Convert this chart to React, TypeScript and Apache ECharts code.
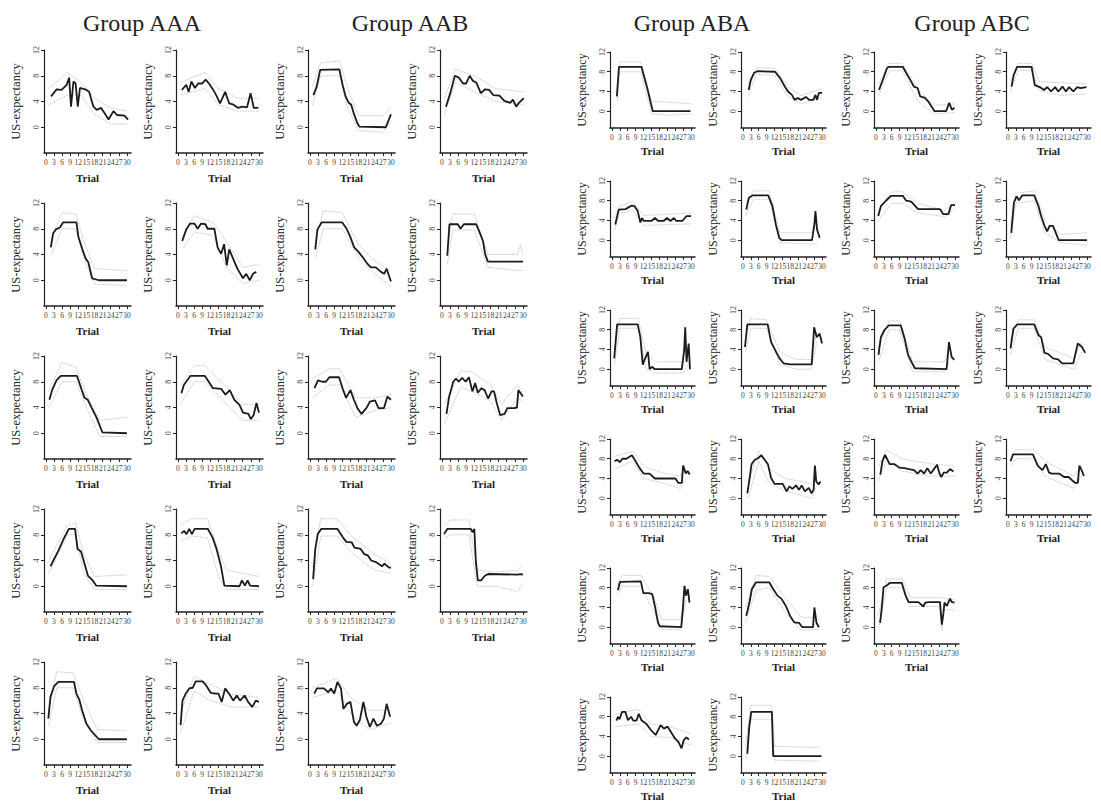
import React, { useEffect, useRef } from "react";
import * as echarts from "echarts";

// ---------- tick labels ----------
const trialTicks = [0, 3, 6, 9, 12, 15, 18, 21, 24, 27, 30];
const expectancyTicks = [0, 4, 8, 12];
const groupNames = ["Group AAA", "Group AAB", "Group ABA", "Group ABC"];

// ---------- data: [trial, US-expectancy] ----------
const aaaMean = [
  [[1.9,4.8],[4,5.9],[5.8,5.8],[7.7,6.6],[8.6,7.7],[9.3,3.2],[10.2,7.1],[11,6.8],[11.8,3.2],[12.6,6.1],[14.5,5.9],[16,5.5],[17.6,3.2],[18.8,2.7],[20.4,3],[21.7,2.2],[23.2,1.2],[25,2.5],[26.3,1.9],[29.1,1.8],[30.4,1.2]],
  [[1.5,5.8],[3.1,6.6],[4,5.5],[5,7.1],[6.3,6.1],[7.5,6.8],[9,6.8],[10.3,7.4],[11.5,6.8],[13.1,5.8],[14.4,4.8],[15.6,3.7],[17.5,5.5],[19,3.7],[20.6,3.5],[22.3,3.0],[23.8,3.2],[25.6,3.1],[26.9,5.3],[28.1,3.0],[29.8,3.0]],
  [[1.8,5.1],[2.7,7.3],[3.7,7.9],[5.2,8.2],[6.4,9.0],[11.3,9.0],[12,6.8],[13.5,4.8],[14.7,3.4],[15.7,2.8],[17.1,0.3],[19.6,0],[30,0]],
  [[1.6,6.1],[3.1,7.9],[4.5,8.8],[6.1,8.8],[7.3,8.0],[8.6,8.8],[10.2,8.7],[11,8.0],[13.5,8.0],[14.7,5.1],[16,4.1],[17.1,5.6],[18.1,2.3],[19,4.8],[20.2,3.6],[22,1.8],[24.1,0.3],[25.3,1.0],[26.6,0],[27.8,1.0],[29,1.3]],
  [[1.3,5.2],[2.3,6.7],[3.9,8.2],[5.5,8.9],[11.5,8.9],[13.3,6.7],[14.3,5.5],[15.5,5.2],[17,3.9],[18.8,2.4],[20.9,0.15],[30,0]],
  [[1.3,6.2],[2.2,7.5],[4.6,8.9],[10,8.9],[13,7.0],[16,6.9],[17.6,6.0],[19.2,6.7],[20.9,5.2],[22.8,4.4],[24.1,3.2],[26.1,3.0],[27,2.2],[28,2.8],[29.1,4.7],[30,3.2]],
  [[1.7,3.1],[3,4.2],[4.6,5.5],[6.5,7.3],[8.5,8.9],[10.8,8.9],[11.7,5.8],[13,5.4],[14.3,3.5],[15.6,1.6],[17.3,0.9],[18.6,0.1],[30,0]],
  [[1.3,8.2],[2.3,8.6],[3.2,8.1],[4.2,8.9],[5.2,8.1],[6.2,8.9],[11.1,8.9],[12.8,7.6],[14.3,5.8],[15.9,3.2],[17.2,0.1],[22.8,0],[23.7,0.9],[24.8,0.1],[25.8,0.9],[26.7,0.1],[30,0]],
  [[0.9,3.2],[1.7,6.6],[3,8.2],[4.6,8.9],[10.4,8.9],[11.3,7.1],[12.4,6.1],[13.4,4.5],[15,2.4],[16.6,1.4],[18.3,0.6],[19.6,0],[30,0]],
  [[1,2.2],[1.7,6.0],[2.9,7.1],[4.2,7.9],[5.5,8.0],[6.6,9.0],[9.1,9.0],[10.4,8.4],[12.2,7.2],[13.9,7.1],[15,7.1],[16.2,5.8],[17.5,7.9],[19.2,6.9],[20.5,6.0],[21.8,6.8],[23,6.0],[24.7,6.8],[26,5.8],[27.5,5.0],[28.8,6.0],[30,5.8]],
];
const aaaUpper = [
  [[1,6],[8,8.5],[13,7],[18,4.5],[24,3],[30,2.5]],
  [[1,7],[10,8.5],[15,6],[22,4.5],[30,4.5]],
  [[2,6.5],[6,10.5],[11,10.3],[14,6],[18,1.8],[30,1.5]],
  [[2,7],[6,10],[13,9],[18,6],[24,2],[30,2.5]],
  [[1,6.5],[6,11],[11,10.3],[15,6],[20,2],[30,2.5]],
  [[1,7.5],[6,10.5],[10,10.5],[17,7.5],[24,4.5],[30,4.5]],
  [[1,4],[8,9.5],[11,9.8],[14,5],[18,1.5],[30,1.8]],
  [[1,9.5],[5,10.5],[11,10.5],[15,5.5],[18,2.5],[30,1.5]],
  [[1,4.5],[4,10.5],[10,10.3],[14,6],[19,1.5],[30,1.3]],
  [[1,4],[6,9.8],[12,8.5],[20,7],[30,6.5]],
];
const aaaLower = [
  [[1,3.5],[8,5],[13,5],[18,2],[24,0.5],[30,0.5]],
  [[1,5],[10,6],[15,3.5],[22,2.5],[30,2.5]],
  [[2,4],[6,8],[11,8],[14,3.5],[18,-0.6],[30,-0.8]],
  [[2,5],[6,7.5],[13,7],[18,2],[24,-0.5],[30,0]],
  [[1,4],[6,8],[11,8],[15,4],[20,-0.5],[30,-0.5]],
  [[1,4.5],[6,8],[10,8],[17,5],[24,2],[30,2]],
  [[1,2],[8,8],[11,8],[14,2],[18,-0.5],[30,-0.5]],
  [[1,7],[5,7.8],[11,7.5],[15,1.5],[18,-0.5],[30,-0.5]],
  [[1,2],[4,8],[10,8],[14,3],[19,-0.5],[30,-0.5]],
  [[1,1],[6,7.5],[12,6],[20,5],[30,5]],
];

const aabMean = [
  [[1.3,5.0],[2.5,6.3],[3.8,8.9],[10.9,9.0],[12.1,6.6],[13.2,4.8],[14.4,3.8],[15.3,3.5],[16.2,2.2],[17.5,0.7],[18.3,0.1],[28.1,0],[30,2.0]],
  [[1.5,3.2],[3.1,5.3],[4.8,8.0],[6.3,7.7],[7.8,6.8],[9,6.8],[10.3,8.0],[11.5,7.2],[12.8,6.9],[14.4,5.3],[16,5.9],[17.5,5.8],[19,5.0],[21.3,4.9],[23.1,4.1],[25.3,3.8],[26.3,4.3],[27.5,3.2],[28.5,3.8],[30.3,4.5]],
  [[2,4.8],[2.8,7.9],[4.4,9.0],[11.9,9.0],[13.6,8.0],[14.8,6.9],[16.4,5.1],[18,4.4],[19.5,3.6],[21.4,2.5],[22.6,2.0],[24.4,2.0],[26.3,1.3],[27.5,1.0],[28.4,1.8],[30,-0.2]],
  [[2,3.8],[2.8,8.7],[5.9,8.7],[6.9,8.0],[8.1,8.7],[12.7,8.7],[14,7.4],[15.2,6.1],[16,4.1],[17,2.9],[30,2.9]],
  [[1.7,7.0],[3,8.2],[4.6,8.0],[5.9,8.0],[7.2,8.7],[10.8,8.7],[12.1,7.0],[13.4,5.5],[15,6.7],[16.3,5.2],[17.6,3.9],[19.1,3.0],[20.9,3.9],[22.2,4.9],[24.1,5.1],[25.4,3.9],[27.4,3.9],[28.7,5.7],[30,5.2]],
  [[1.7,3.0],[2.6,5.5],[4.2,8.0],[5.2,8.5],[6.2,8.0],[7.5,8.6],[8.8,8.0],[10,8.7],[11.3,6.5],[12.3,7.8],[13.3,6.3],[14.6,7.0],[15.8,6.7],[17.1,5.4],[18.4,6.5],[19.3,6.5],[20.3,4.7],[21.6,2.8],[23.2,3.0],[24.2,3.9],[26.8,3.9],[27.8,4.0],[28.3,6.7],[30,5.7]],
  [[1.2,1.1],[2,5.8],[2.9,8.1],[4.2,8.9],[10.2,8.9],[12.2,7.6],[13.5,6.9],[15.5,6.8],[16.5,6.0],[18.8,5.8],[20.1,5.0],[21.4,4.8],[22.7,4.0],[24.7,3.7],[26.7,3.1],[27.6,3.5],[29.3,2.9],[30,2.9]],
  [[0.8,8.1],[2,8.9],[10.7,8.9],[11.4,8.4],[12,8.9],[12.6,3.7],[13.3,0.9],[14.5,0.9],[15.8,1.6],[17.1,1.9],[28,1.8],[29.1,1.9],[30,1.8]],
  [[1.6,7.1],[2.6,7.9],[5.2,7.9],[6.8,7.3],[7.8,7.9],[9,7.1],[10.2,8.9],[11.5,7.9],[12.4,4.7],[13.7,5.5],[15,5.8],[16.3,2.7],[17.3,2.1],[18.5,3.0],[19.8,5.8],[20.9,3.5],[22.2,1.9],[23.5,3.2],[24.8,2.1],[26.3,2.4],[27.4,3.2],[28.4,5.5],[29.7,3.5]],
];
const aabUpper = [
  [[1,6.5],[4,10],[11,10.3],[14,6],[18,1.8],[27,1.8],[30,3]],
  [[1,4.5],[5,9],[12,8],[20,6],[30,5.5]],
  [[2,6],[5,10.8],[12,10.5],[18,5.5],[24,3],[30,1.5]],
  [[2,5],[4,10.3],[12,10.3],[17,4],[28,4],[29,5.5],[30,4]],
  [[1,8.5],[7,10],[11,10],[17,5.5],[24,5.5],[30,6]],
  [[1,4.5],[7,9.7],[11,9.5],[18,7.5],[22,4.5],[28,7.5],[30,6.5]],
  [[1,3],[4,10.5],[10,10.5],[16,7.5],[24,5],[30,3.5]],
  [[1,9.5],[3,10.3],[10,10.3],[13,2.5],[20,2.2],[28,2.5],[30,3.5]],
  [[1,8],[10,9.5],[15,6.5],[22,4.5],[30,4.5]],
];
const aabLower = [
  [[1,3.5],[4,8],[11,8],[14,3],[18,-0.5],[27,-0.8],[30,1]],
  [[1,2],[5,7],[12,5.5],[20,4],[30,3.5]],
  [[2,3.5],[5,8],[12,8],[18,3.5],[24,1],[30,-1]],
  [[2,2.5],[4,7.8],[12,7.8],[17,2],[28,1.5],[30,1.5]],
  [[1,5.5],[7,7.5],[11,7.5],[17,2.5],[24,3.5],[30,4]],
  [[1,1.5],[7,7.2],[11,6.5],[18,5],[22,2],[28,5.5],[30,5]],
  [[1,0],[4,7.8],[10,7.8],[16,5],[24,2.5],[30,2]],
  [[1,7.5],[3,8],[10,8],[13,0],[20,0],[28,-0.8],[30,0.5]],
  [[1,6.5],[10,7.5],[15,4],[22,1.5],[30,2.5]],
];

const abaMean = [
  [[1.9,3.0],[2.7,9.0],[11.2,9.0],[13.4,4.7],[15.5,0],[29.8,0]],
  [[2.2,4.3],[3,6.3],[4.3,7.8],[5.5,8.1],[12.2,8.0],[14.1,6.7],[15.9,5.0],[17.1,4.0],[18.6,3.3],[19.6,2.3],[20.8,2.7],[22,2.3],[23.9,2.9],[25.1,2.3],[26.7,2.3],[27.5,3.3],[28.1,2.3],[28.8,3.7],[30,3.7]],
  [[1.3,3.2],[2.6,6.2],[5.2,6.3],[6.1,6.6],[7.4,7.0],[8.6,6.9],[9.8,5.9],[10.8,3.6],[11.4,4.5],[12.1,3.9],[15,3.9],[16.3,4.5],[17.6,3.9],[19.6,3.9],[20.9,4.5],[22.2,3.9],[23.5,4.5],[24.4,3.9],[26.7,3.9],[28.3,4.9],[30,4.9]],
  [[1.3,6.2],[2.3,8.6],[3.8,9.1],[9.6,9.1],[11.2,6.9],[12.5,3.2],[13.8,0.5],[14.7,0],[26.2,0],[27.1,3.2],[27.5,5.9],[28.1,2.2],[29.1,0.5]],
  [[0.9,2.2],[2,9.1],[9.8,9.1],[10.8,6.5],[11.7,0.9],[12.6,2.2],[13.7,3.5],[14.3,0],[15.2,0.5],[16.3,0],[26.5,0],[27.4,3.9],[27.8,8.5],[28.3,1.5],[29.1,5.2],[29.6,0]],
  [[0.8,4.5],[1.7,9.1],[9.4,9.1],[10.7,5.5],[12.6,3.5],[13.9,2.2],[15.4,1.2],[17.8,1.0],[26.1,1.0],[27,8.5],[28,6.5],[29.1,7.2],[30,5.2]],
  [[1,7.5],[2,7.8],[3,7.3],[4,8.0],[5.5,8.0],[7.6,8.7],[9,7.5],[10.4,6.2],[12,5.0],[14.3,5.0],[16.3,4.0],[24.1,4.0],[25.2,3.1],[26.5,3.1],[27,6.6],[28,5.0],[28.7,5.5],[29.5,4.8]],
  [[1.7,1.0],[2.5,3.8],[3.3,6.9],[4.5,7.8],[5.5,8.0],[7,8.7],[8,8.0],[9.5,6.9],[10.7,4.1],[12,2.9],[15.1,2.9],[16.6,1.4],[17.6,2.4],[18.8,1.9],[20.1,2.6],[21.3,1.7],[22.3,2.6],[23.5,1.4],[25,2.1],[26,1.0],[26.8,1.7],[27.3,6.6],[27.8,3.4],[28.7,2.8],[29.4,3.4]],
  [[2.3,7.5],[3.1,9.2],[11,9.3],[11.9,6.9],[14,6.9],[15.3,6.7],[16.3,4.3],[17.5,0.9],[18.1,0.2],[26.3,0],[26.9,3.6],[27.5,8.4],[28.1,6.4],[28.8,7.7],[29.4,5.0]],
  [[1.3,2.3],[2.5,5.0],[3.4,7.7],[5,9.1],[10,9.1],[11.3,7.9],[13.1,6.4],[14.6,5.8],[16.3,4.3],[17.9,2.3],[19.4,1.0],[21.3,0.9],[22.5,0],[26.6,0],[27.1,4.0],[27.9,0.9],[28.8,0]],
  [[1.7,7.2],[2.3,8.0],[2.9,7.5],[3.9,9.0],[5.1,9.0],[6.1,7.3],[7.3,8.0],[8.1,7.2],[9.3,7.2],[10.2,8.6],[11.2,7.3],[13,6.6],[14.8,5.3],[16.6,4.3],[18.5,6.3],[19.7,5.6],[21.1,6.0],[22.4,4.9],[23.9,3.6],[25.2,2.9],[26.4,1.6],[27.2,3.2],[28.2,3.8],[29.2,3.4]],
  [[1.7,0.5],[2.4,5.9],[3.2,9.0],[11,9.0],[11.5,0],[29.8,0]],
];
const abaUpper = [
  [[2,4.5],[3,10],[11,10],[15,2],[22,1.8],[30,1.5]],
  [[2,5.5],[5,8.8],[12,8.7],[17,5],[22,3.2],[30,4.5]],
  [[1,4.5],[3,7],[8,7.8],[12,5],[30,5.5]],
  [[1,7.5],[4,10],[10,10],[14,1.5],[26,1.5],[28,5]],
  [[1,4],[3,10.3],[10,10.3],[13,3],[17,1.5],[27,1.5],[28,7]],
  [[1,6],[3,10.3],[9,10],[14,3.5],[20,2],[26,2],[28,7.5]],
  [[1,8.5],[8,9.5],[12,6.5],[20,5],[26,4.5],[28,6]],
  [[2,3],[6,9.5],[10,6],[16,4],[26,3],[28,5]],
  [[2,8.5],[4,10.5],[11,10.5],[16,6],[19,1.5],[26,1.5],[28,8]],
  [[1,4],[5,10.5],[10,10.3],[16,6],[22,2],[27,2],[29,1.5]],
  [[1,8.5],[10,9.5],[15,6.5],[22,6],[30,4.5]],
  [[1,2],[3,10.3],[11,10.3],[12,2],[29,1.8]],
];
const abaLower = [
  [[2,2],[3,8],[11,8],[15,-0.5],[22,-0.8],[30,-0.5]],
  [[2,3],[5,7.5],[12,7.3],[17,3],[22,1.5],[30,2.8]],
  [[1,2],[3,5.5],[8,6],[12,3],[30,3.3]],
  [[1,5],[4,8.3],[10,8.3],[14,-0.5],[26,-0.8],[28,-0.5]],
  [[1,1],[3,8.3],[10,8.3],[13,0],[17,-0.8],[27,-0.8],[29,1]],
  [[1,3.5],[3,8.3],[9,8.3],[14,1],[20,0],[26,0],[28,5.5]],
  [[1,6],[8,7.5],[12,4],[20,3],[26,2],[28,4]],
  [[2,0],[6,7.5],[10,3],[16,1.5],[26,0],[28,2.5]],
  [[2,6.5],[4,8.3],[11,8.3],[16,3],[19,-0.5],[26,-0.5],[28,5.5]],
  [[1,1],[5,7.5],[10,8],[16,3],[22,-0.5],[27,-0.5],[29,-0.5]],
  [[1,6],[10,6.5],[15,4],[22,3.8],[30,2.2]],
  [[1,-0.5],[3,7.5],[11,7.5],[12,-0.8],[29,-1]],
];

const abcMean = [
  [[1.2,4.3],[2.6,6.3],[4.2,8.7],[4.8,9.0],[10.2,9.0],[12,7.3],[13.4,6.0],[14.4,5.0],[15.8,4.7],[16.8,3.0],[18.6,2.7],[19.8,2.0],[21.4,0.7],[22.2,0],[26.6,0],[27.8,1.7],[28.8,0.3],[29.8,0.7]],
  [[1.4,5.0],[2.2,7.3],[3.5,9.0],[9,9.0],[10.2,5.3],[12.1,4.9],[13.7,4.3],[14.9,4.9],[16.4,4.0],[17.9,4.9],[19.1,4.0],[20.7,5.0],[22,4.0],[23.2,4.9],[24.8,4.0],[26.3,4.9],[27.5,4.7],[29.8,4.9]],
  [[0.9,4.9],[1.9,6.9],[3.8,8.0],[5.7,9.0],[10.2,9.0],[11.5,8.0],[13.4,7.8],[16,6.3],[24.3,6.3],[25.5,5.3],[27.5,5.3],[28.5,7.1],[30,7.1]],
  [[1.3,1.5],[2.3,7.6],[3.3,8.9],[4.2,8.1],[5.5,9.1],[10,9.1],[11.6,6.9],[12.6,4.9],[13.9,2.9],[14.9,1.8],[15.8,2.9],[17.1,2.9],[18.4,1.2],[19.3,0],[30,0]],
  [[1,2.9],[1.9,6.5],[3.2,7.9],[4.9,8.9],[9.4,8.9],[10.9,6.2],[12.2,2.9],[13.5,1.5],[14.8,0.2],[26.8,0],[27.7,5.5],[28.7,2.5],[29.7,1.9]],
  [[1,4.2],[2.1,8.2],[3.6,9.1],[10,9.1],[11.6,6.9],[12.6,6.5],[13.9,3.3],[15.2,3.1],[17.1,2.2],[19,2.0],[20.6,1.2],[24.8,1.2],[26.5,5.2],[28.1,4.5],[29.3,3.3]],
  [[1.7,4.8],[2.5,7.5],[3.5,8.8],[5.2,6.9],[7.1,6.9],[8.9,6.2],[10.8,6.1],[12.6,5.9],[14.5,5.7],[15.8,5.0],[17,5.7],[18.3,5.0],[19.5,6.1],[20.8,5.0],[22,5.9],[23.2,6.8],[24.1,5.0],[24.8,4.3],[25.7,5.2],[26.9,5.2],[28.1,5.9],[29.4,5.4]],
  [[1,7.5],[2,8.9],[9.5,8.9],[11.3,6.6],[13.1,5.7],[14.4,6.9],[15.6,5.2],[16.6,5.0],[19.4,5.0],[21.3,4.3],[23,4.3],[24.4,3.6],[25.6,3.1],[26.5,3.1],[27.1,6.6],[28.1,5.5],[28.8,4.5]],
  [[1.6,0.9],[2.2,3.6],[2.9,8.1],[4,8.4],[5.4,9.0],[9.8,9.0],[11.3,6.4],[12.4,5.1],[16.1,5.1],[18,4.2],[18.7,5.0],[20,5.1],[24.3,5.1],[25,0.5],[25.6,2.9],[26,5.0],[26.9,4.3],[28.1,5.8],[28.8,5.1],[29.8,5.0]],
];
const abcUpper = [
  [[1,5.5],[5,9.7],[10,9.7],[16,4.5],[22,1.2],[30,1.5]],
  [[1,6],[4,9.7],[9,9.7],[12,6],[30,5.5]],
  [[1,6],[6,9.8],[10,9.8],[16,7.5],[26,6],[30,7.8]],
  [[1,3],[3,9.5],[10,10],[14,4],[20,1.2],[30,1.5]],
  [[1,4.5],[5,9.8],[9,9.8],[14,1.5],[26,1.5],[28,4.5]],
  [[1,6],[4,10],[10,10],[14,4.5],[25,2.2],[28,5.5]],
  [[1,6.5],[4,9.8],[10,8],[20,7],[30,6.5]],
  [[1,8.5],[3,9.8],[10,9.8],[14,7.5],[25,4.5],[28,6.5]],
  [[1,2.5],[4,9.8],[10,9.8],[13,6],[24,6],[30,5.5]],
];
const abcLower = [
  [[1,3],[5,8.2],[10,8.2],[16,2],[22,-0.5],[30,-0.3]],
  [[1,4],[4,8.3],[9,8.3],[12,4.2],[20,3.2],[30,3.5]],
  [[1,4],[6,7.5],[10,7.5],[16,5.5],[26,4.8],[30,6.5]],
  [[1,0.5],[3,7.5],[10,8],[14,1.5],[20,-0.5],[30,-1]],
  [[1,1.5],[5,8],[9,8],[14,-0.5],[26,-0.5],[28,1.5]],
  [[1,3],[4,8.3],[10,8.3],[14,2],[25,0],[28,3.5]],
  [[1,3.5],[4,7.8],[10,5.5],[20,4.5],[30,4.5]],
  [[1,6.5],[3,8],[10,8],[14,4.5],[25,2],[28,4.5]],
  [[1,-0.5],[4,8],[10,8],[13,4.2],[24,4.2],[25,-0.5],[26,3.5],[30,3.5]],
];

// ---------- layout (positions & styles only) ----------
const FONT = '"Liberation Serif", "DejaVu Serif", serif';
const SIDES = {
  L: { cols: [44, 176, 308, 440], top: 50, step: 153, w: 87, h: 103, ymin: -4, yNameGap: 22, xNameGap: 19, yNameSize: 12.5 },
  R: { cols: [610, 741, 874, 1006], top: 52, step: 129, w: 85, h: 76, ymin: -3.4, yNameGap: 22, xNameGap: 17, yNameSize: 12 },
};
const GROUPS = [
  { mean: aaaMean, upper: aaaUpper, lower: aaaLower, side: "L", col0: 0, titleX: 142 },
  { mean: aabMean, upper: aabUpper, lower: aabLower, side: "L", col0: 2, titleX: 410 },
  { mean: abaMean, upper: abaUpper, lower: abaLower, side: "R", col0: 0, titleX: 692 },
  { mean: abcMean, upper: abcUpper, lower: abcLower, side: "R", col0: 2, titleX: 972 },
];

function buildOption() {
  const grid: any[] = [];
  const xAxis: any[] = [];
  const yAxis: any[] = [];
  const series: any[] = [];
  const graphic: any[] = [];
  let idx = 0;
  GROUPS.forEach((g, gi) => {
    const L = (SIDES as any)[g.side];
    graphic.push({
      type: "text",
      x: g.titleX,
      y: 23,
      style: { text: groupNames[gi], font: `24px ${FONT}`, fill: "#222", textAlign: "center", textVerticalAlign: "middle" },
    });
    g.mean.forEach((meanData: number[][], pi: number) => {
      const row = Math.floor(pi / 2);
      const col = g.col0 + (pi % 2);
      grid.push({ left: L.cols[col], top: L.top + row * L.step, width: L.w, height: L.h, containLabel: false, outerBoundsMode: "none" });
      xAxis.push({
        gridIndex: idx,
        type: "value",
        min: -0.7,
        max: 31.5,
        name: "Trial",
        nameLocation: "middle",
        nameGap: L.xNameGap,
        nameTextStyle: { fontFamily: FONT, fontSize: 11, fontWeight: "bold", color: "#222" },
        axisLine: { show: true, onZero: false, lineStyle: { color: "#222", width: 1.5 } },
        axisTick: { show: true, customValues: trialTicks, length: 3, lineStyle: { color: "#222", width: 1 } },
        axisLabel: { customValues: trialTicks, fontFamily: FONT, fontSize: 7.5, color: "#444", margin: 5, hideOverlap: false },
        splitLine: { show: false },
      });
      yAxis.push({
        gridIndex: idx,
        type: "value",
        min: L.ymin,
        max: 12,
        name: "US-expectancy",
        nameLocation: "middle",
        nameRotate: 90,
        nameGap: L.yNameGap,
        nameTextStyle: { fontFamily: FONT, fontSize: L.yNameSize, color: "#222" },
        axisLine: { show: true, onZero: false, lineStyle: { color: "#222", width: 1.2 } },
        axisTick: { show: true, customValues: expectancyTicks, length: 3, lineStyle: { color: "#222", width: 1 } },
        axisLabel: { customValues: expectancyTicks, rotate: 90, fontFamily: FONT, fontSize: 8, color: "#444", margin: 4 },
        splitLine: { show: false },
      });
      const ci = { color: "#a8a8a8", width: 0.8, type: "dotted" };
      series.push({ type: "line", xAxisIndex: idx, yAxisIndex: idx, data: g.upper[pi], showSymbol: false, silent: true, lineStyle: ci, z: 1 });
      series.push({ type: "line", xAxisIndex: idx, yAxisIndex: idx, data: g.lower[pi], showSymbol: false, silent: true, lineStyle: ci, z: 1 });
      series.push({
        type: "line",
        xAxisIndex: idx,
        yAxisIndex: idx,
        data: meanData,
        showSymbol: false,
        silent: true,
        lineStyle: { color: "#1c1c1c", width: 1.8 },
        z: 3,
      });
      idx++;
    });
  });
  return { animation: false, backgroundColor: "#fff", grid, xAxis, yAxis, series, graphic };
}

export default function App() {
  const ref = useRef<HTMLDivElement>(null);
  useEffect(() => {
    if (!ref.current) return;
    const chart = echarts.init(ref.current, null, { renderer: "svg" });
    chart.setOption(buildOption() as any);
    return () => chart.dispose();
  }, []);
  return (
    <div
      ref={ref}
      style={{ position: "fixed", left: 0, top: 0, width: 1101, height: 806, background: "#fff" }}
    />
  );
}
